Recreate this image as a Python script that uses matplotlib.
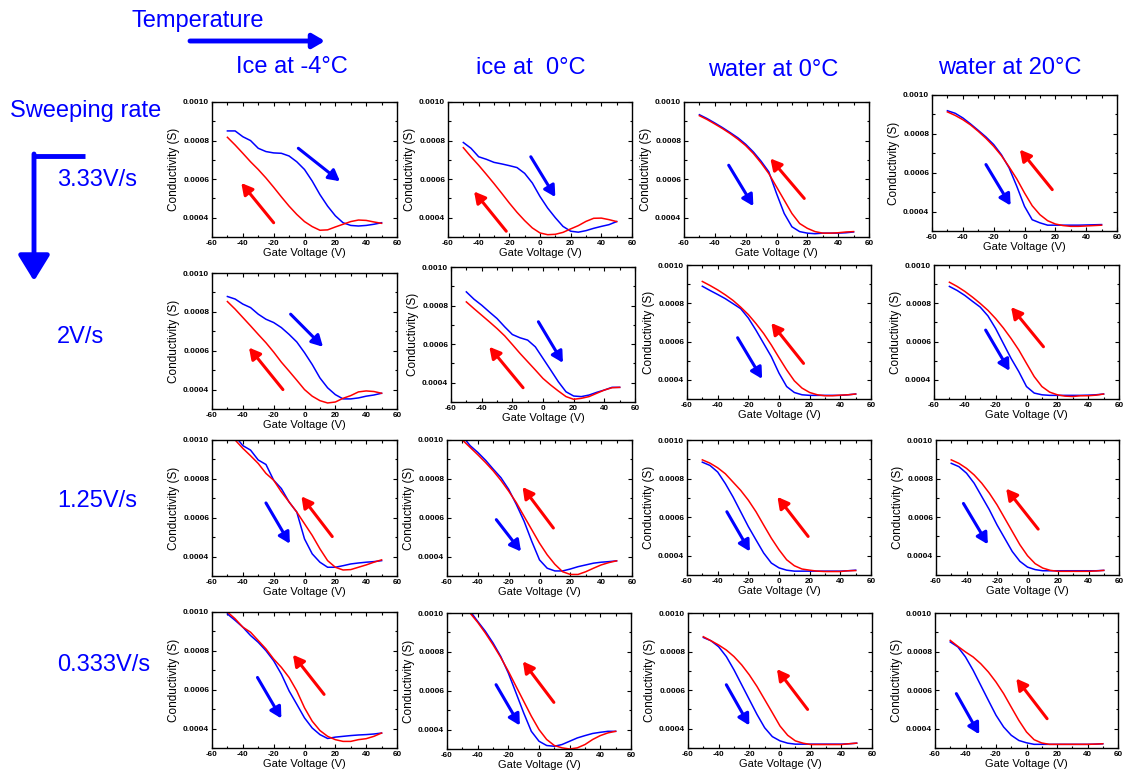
import matplotlib
matplotlib.use('Agg')
import matplotlib.pyplot as plt
from matplotlib.ticker import MultipleLocator

plt.rcParams['font.family'] = ['Liberation Sans', 'DejaVu Sans']

# ---------------- data ----------------
temperatures = ['Ice at -4°C', 'ice at  0°C', 'water at 0°C', 'water at 20°C']
rates = ['3.33V/s', '2V/s', '1.25V/s', '0.333V/s']
gate_v = [-50, -45, -40, -35, -30, -25, -20, -15, -10, -5, 0, 5, 10, 15, 20, 25, 30, 35, 40, 45, 50]

# blue = forward sweep (-50 -> 50), red = backward sweep (50 -> -50); units: S
blue_r1c1 = [0.00085, 0.00085, 0.00082, 0.00080, 0.00076, 0.000743, 0.000736, 0.000734, 0.00072, 0.00069, 0.00065,
             0.00059, 0.00052, 0.00046, 0.00041, 0.000374, 0.00036, 0.000357, 0.00036, 0.000366, 0.000374]
red_r1c1 = [0.000817, 0.000777, 0.000734, 0.00069, 0.00065, 0.000606, 0.000558, 0.000508, 0.00046, 0.000417, 0.00038,
            0.000354, 0.000335, 0.000337, 0.000352, 0.000366, 0.00038, 0.000388, 0.000386, 0.000378, 0.000371]
blue_r1c2 = [0.00079, 0.00076, 0.000716, 0.000703, 0.000687, 0.000679, 0.00067, 0.00066, 0.00063, 0.00058, 0.00051,
             0.00045, 0.00040, 0.000355, 0.00033, 0.000325, 0.000333, 0.000345, 0.000355, 0.000364, 0.00038]
red_r1c2 = [0.000763, 0.000716, 0.000672, 0.000625, 0.000577, 0.000527, 0.000476, 0.000428, 0.000385, 0.000347, 0.000321,
            0.000312, 0.000314, 0.000324, 0.000342, 0.000359, 0.000381, 0.000397, 0.000398, 0.00039, 0.00038]
blue_r1c3 = [0.000934, 0.000914, 0.000891, 0.000867, 0.000841, 0.000814, 0.000781, 0.000741, 0.000693, 0.000638, 0.000526,
             0.000422, 0.000353, 0.000328, 0.00032, 0.000317, 0.00032, 0.00032, 0.00032, 0.000322, 0.000326]
red_r1c3 = [0.000929, 0.000909, 0.000886, 0.000862, 0.000836, 0.000807, 0.000774, 0.000733, 0.000684, 0.000629, 0.00056,
            0.000491, 0.000422, 0.00037, 0.000345, 0.000328, 0.00032, 0.00032, 0.000322, 0.000326, 0.000328]
blue_r1c4 = [0.000919, 0.000906, 0.000882, 0.000851, 0.000818, 0.000784, 0.000745, 0.000693, 0.000625, 0.00053, 0.000427,
             0.000358, 0.000342, 0.00033, 0.00033, 0.00033, 0.00033, 0.00033, 0.000331, 0.000332, 0.000333]
red_r1c4 = [0.000913, 0.000895, 0.000873, 0.000846, 0.000813, 0.000777, 0.000736, 0.000688, 0.00063, 0.000568, 0.000496,
            0.00043, 0.000384, 0.000353, 0.000336, 0.000328, 0.000324, 0.000324, 0.000326, 0.000328, 0.00033]

blue_r2c1 = [0.000879, 0.000866, 0.00084, 0.000822, 0.000788, 0.000762, 0.000745, 0.000719, 0.000684, 0.000645, 0.00059,
             0.000529, 0.00046, 0.000409, 0.000374, 0.000352, 0.000352, 0.000357, 0.000366, 0.000372, 0.000381]
red_r2c1 = [0.000853, 0.000814, 0.000771, 0.000728, 0.000684, 0.000641, 0.000593, 0.000541, 0.000495, 0.000448, 0.0004,
            0.000366, 0.000343, 0.000331, 0.000336, 0.000355, 0.000369, 0.000388, 0.000393, 0.00039, 0.000381]
blue_r2c2 = [0.000871, 0.000833, 0.000802, 0.000767, 0.000733, 0.00069, 0.00065, 0.000633, 0.000621, 0.000586, 0.000526,
             0.000466, 0.000405, 0.000353, 0.000331, 0.000328, 0.000336, 0.00035, 0.000362, 0.000376, 0.000376]
red_r2c2 = [0.000819, 0.000784, 0.00075, 0.000716, 0.000681, 0.000643, 0.000598, 0.000552, 0.000509, 0.000466, 0.000422,
            0.000388, 0.000357, 0.000328, 0.000314, 0.000319, 0.000328, 0.000345, 0.000362, 0.000374, 0.000376]
blue_r2c3 = [0.000889, 0.000867, 0.000846, 0.000824, 0.000798, 0.000772, 0.000723, 0.000659, 0.00059, 0.000521, 0.000435,
             0.000365, 0.000334, 0.000322, 0.000319, 0.000319, 0.000319, 0.000319, 0.000319, 0.000322, 0.000326]
red_r2c3 = [0.000914, 0.000893, 0.00087, 0.000844, 0.000815, 0.00078, 0.000741, 0.000694, 0.000642, 0.000582, 0.000516,
            0.000452, 0.000395, 0.000357, 0.000334, 0.000322, 0.000317, 0.000317, 0.00032, 0.000322, 0.000326]
blue_r2c4 = [0.000888, 0.000867, 0.000841, 0.00081, 0.00078, 0.000734, 0.000668, 0.00059, 0.000512, 0.000443, 0.000365,
             0.000331, 0.000322, 0.000319, 0.000319, 0.000319, 0.000319, 0.000319, 0.00032, 0.000322, 0.000326]
red_r2c4 = [0.00091, 0.000888, 0.000862, 0.000832, 0.000799, 0.000763, 0.00072, 0.000671, 0.000616, 0.000556, 0.000486,
            0.000417, 0.000365, 0.000336, 0.000322, 0.000315, 0.000313, 0.000317, 0.000317, 0.00032, 0.000326]

blue_r3c1 = [0.00108, 0.00102, 0.000971, 0.000948, 0.000897, 0.000874, 0.000793, 0.00075, 0.000681, 0.000629, 0.000491,
             0.000414, 0.000371, 0.000345, 0.000345, 0.000353, 0.000362, 0.000367, 0.000371, 0.000374, 0.000379]
red_r3c1 = [0.00106, 0.0010, 0.000957, 0.000919, 0.000879, 0.000828, 0.000793, 0.000733, 0.000681, 0.000629, 0.000569,
            0.000509, 0.00044, 0.000379, 0.000345, 0.000331, 0.000333, 0.000345, 0.000357, 0.000371, 0.000383]
blue_r3c2 = [0.00102, 0.000971, 0.000936, 0.000896, 0.00085, 0.000806, 0.000746, 0.000668, 0.000582, 0.000478, 0.000383,
             0.00034, 0.000326, 0.000326, 0.000336, 0.000348, 0.000357, 0.000366, 0.000371, 0.000374, 0.000378]
red_r3c2 = [0.0010, 0.000962, 0.000924, 0.000884, 0.000841, 0.000792, 0.000737, 0.000677, 0.000607, 0.000538, 0.000469,
            0.000409, 0.00036, 0.000322, 0.000308, 0.000308, 0.000322, 0.00034, 0.000357, 0.000369, 0.000378]
blue_r3c3 = [0.000885, 0.000868, 0.000834, 0.000774, 0.000705, 0.000628, 0.000551, 0.000482, 0.000414, 0.000362, 0.000337,
             0.000325, 0.00032, 0.00032, 0.00032, 0.00032, 0.00032, 0.00032, 0.00032, 0.000322, 0.000325]
red_r3c3 = [0.000897, 0.00088, 0.000856, 0.000825, 0.000782, 0.000739, 0.000688, 0.000628, 0.000559, 0.000491, 0.000431,
            0.000379, 0.000348, 0.000331, 0.000325, 0.00032, 0.000318, 0.000318, 0.000318, 0.000322, 0.000323]
blue_r3c4 = [0.000879, 0.000862, 0.000828, 0.000776, 0.000707, 0.000638, 0.00056, 0.000491, 0.000422, 0.000371, 0.000341,
             0.000328, 0.000322, 0.000322, 0.000322, 0.000322, 0.000322, 0.000322, 0.000322, 0.000322, 0.000324]
red_r3c4 = [0.000897, 0.000879, 0.000853, 0.000819, 0.000776, 0.000724, 0.000664, 0.000595, 0.000526, 0.000457, 0.0004,
            0.000359, 0.000336, 0.000324, 0.000319, 0.000319, 0.000319, 0.000319, 0.000319, 0.000321, 0.000324]

blue_r4c1 = [0.00099, 0.000957, 0.000922, 0.000879, 0.000844, 0.000801, 0.000749, 0.00068, 0.000594, 0.000525, 0.000455,
             0.000403, 0.000369, 0.000349, 0.000356, 0.00036, 0.000364, 0.000367, 0.000369, 0.000372, 0.000377]
red_r4c1 = [0.0010, 0.000965, 0.000922, 0.000896, 0.000853, 0.00081, 0.000758, 0.000715, 0.000663, 0.000594, 0.000507,
            0.000438, 0.00039, 0.00036, 0.000343, 0.000334, 0.000334, 0.000343, 0.000348, 0.00036, 0.000377]
blue_r4c2 = [0.00104, 0.00101, 0.000957, 0.000906, 0.000846, 0.000777, 0.000691, 0.000589, 0.000486, 0.000391, 0.00034,
             0.000318, 0.000314, 0.000323, 0.00034, 0.000357, 0.000369, 0.00038, 0.000386, 0.000391, 0.000391]
red_r4c2 = [0.00103, 0.0010, 0.000952, 0.000897, 0.000837, 0.000772, 0.0007, 0.000623, 0.000546, 0.000469, 0.0004,
            0.000349, 0.000318, 0.000306, 0.0003, 0.000306, 0.000323, 0.000349, 0.000369, 0.000383, 0.000391]
blue_r4c3 = [0.000873, 0.000856, 0.000825, 0.000774, 0.000705, 0.000628, 0.000551, 0.000474, 0.000405, 0.000359, 0.000337,
             0.000325, 0.00032, 0.00032, 0.00032, 0.00032, 0.00032, 0.00032, 0.00032, 0.000322, 0.000325]
red_r4c3 = [0.000877, 0.000856, 0.000834, 0.000808, 0.000774, 0.000731, 0.000679, 0.000619, 0.000551, 0.000483, 0.000414,
            0.000366, 0.000337, 0.000325, 0.000318, 0.000318, 0.000318, 0.000318, 0.000318, 0.000322, 0.000325]
blue_r4c4 = [0.00085, 0.000824, 0.000772, 0.000703, 0.000625, 0.000547, 0.00047, 0.000409, 0.000366, 0.000339, 0.000327,
             0.000319, 0.000319, 0.000319, 0.000319, 0.000319, 0.000319, 0.000319, 0.000319, 0.00032, 0.000322]
red_r4c4 = [0.000858, 0.000827, 0.000798, 0.000772, 0.000737, 0.000694, 0.000642, 0.000582, 0.000512, 0.000443, 0.000383,
            0.000343, 0.000326, 0.000319, 0.000319, 0.000319, 0.000319, 0.000319, 0.000319, 0.00032, 0.000322]

blue_curves = [[blue_r1c1, blue_r1c2, blue_r1c3, blue_r1c4],
               [blue_r2c1, blue_r2c2, blue_r2c3, blue_r2c4],
               [blue_r3c1, blue_r3c2, blue_r3c3, blue_r3c4],
               [blue_r4c1, blue_r4c2, blue_r4c3, blue_r4c4]]
red_curves = [[red_r1c1, red_r1c2, red_r1c3, red_r1c4],
              [red_r2c1, red_r2c2, red_r2c3, red_r2c4],
              [red_r3c1, red_r3c2, red_r3c3, red_r3c4],
              [red_r4c1, red_r4c2, red_r4c3, red_r4c4]]

# sweep-direction arrows (tail x, tail y, head x, head y) in data units
blue_arrows = [[(-4, 0.00076, 23, 0.000589), (-6, 0.000716, 10, 0.000507), (-31, 0.000672, -15, 0.00046), (-25, 0.000642, -9, 0.000431)],
               [(-9, 0.000788, 12, 0.00062), (-3, 0.000716, 13, 0.000503), (-27, 0.00062, -11, 0.000405), (-26.5, 0.00066, -11, 0.000447)],
               [(-25, 0.000676, -9.5, 0.000466), (-28, 0.00059, -12, 0.000426), (-34, 0.000628, -19, 0.000422), (-42, 0.000671, -26, 0.000459)],
               [(-30.5, 0.000663, -15, 0.000452), (-28, 0.000631, -12.5, 0.000421), (-35, 0.000628, -20, 0.000417), (-46, 0.000582, -31, 0.000371)]]
red_arrows = [[(-20, 0.000374, -41, 0.00058), (-22, 0.00033, -43, 0.000536), (18, 0.0005, -4, 0.000707), (18, 0.000513, -3, 0.000719)],
              [(-14, 0.0004, -36, 0.000616), (-13, 0.000374, -35, 0.000586), (16, 0.000486, -5, 0.000697), (11, 0.000573, -10, 0.00078)],
              [(18, 0.000503, -2, 0.00071), (9, 0.000547, -11, 0.000758), (19, 0.0005, -1, 0.000705), (7, 0.000538, -14, 0.000748)],
              [(12.7, 0.000576, -7.5, 0.00078), (9.7, 0.00054, -10.5, 0.000751), (18, 0.0005, -2, 0.000709), (13.5, 0.000452, -6.7, 0.00066)]]

# ---------------- layout (pixel boxes: left, top, right, bottom) ----------------
W, H = 1128, 779
boxes = [[(212, 102, 397, 237), (448, 102, 632, 237), (684, 102, 869, 237), (932, 95, 1117, 231)],
         [(212, 273, 397, 409), (451, 267, 635, 402), (687, 265, 871, 399), (934, 265, 1119, 399)],
         [(212, 440, 397, 576), (447, 440, 632, 576), (687, 440, 871, 575), (936, 440, 1119, 575)],
         [(212, 612, 397, 748), (447, 613, 631, 749), (688, 613, 872, 748), (935, 613, 1118, 748)]]

BLUE = '#0000ff'
RED = '#ff0000'

fig = plt.figure(figsize=(W / 100, H / 100), dpi=100)

for r in range(4):
    for c in range(4):
        l, t, rr, b = boxes[r][c]
        ax = fig.add_axes([l / W, 1 - b / H, (rr - l) / W, (b - t) / H])
        ax.plot(gate_v, blue_curves[r][c], color=BLUE, lw=1.1)
        ax.plot(gate_v, red_curves[r][c], color=RED, lw=1.1)
        ax.set_xlim(-60, 60)
        ax.set_ylim(0.0003, 0.0010)
        ax.set_xticks([-60, -40, -20, 0, 20, 40, 60])
        ax.set_xticklabels(['-60', '-40', '-20', '0', '20', '40', '60'], fontsize=5.8, fontweight='bold')
        ax.set_yticks([0.0004, 0.0006, 0.0008, 0.0010])
        ax.set_yticklabels(['0.0004', '0.0006', '0.0008', '0.0010'], fontsize=6, fontweight='bold')
        ax.xaxis.set_minor_locator(MultipleLocator(10))
        ax.yaxis.set_minor_locator(MultipleLocator(0.0001))
        ax.tick_params(which='both', direction='in', top=True, right=True, width=0.8, pad=2)
        ax.tick_params(which='major', length=3)
        ax.tick_params(which='minor', length=1.8)
        for s in ax.spines.values():
            s.set_linewidth(1.0)
        ax.set_xlabel('Gate Voltage (V)', fontsize=8, labelpad=1)
        ax.set_ylabel('Conductivity (S)', fontsize=8.5, labelpad=2)
        for (x0, y0, x1, y1), col in [(blue_arrows[r][c], BLUE), (red_arrows[r][c], RED)]:
            ax.annotate('', xy=(x1, y1), xytext=(x0, y0),
                        arrowprops=dict(arrowstyle='-|>,head_length=0.55,head_width=0.3', color=col,
                                        lw=2.2, shrinkA=0, shrinkB=0, mutation_scale=12))

# ---------------- headers (overlay axes in pixel coordinates) ----------------
ov = fig.add_axes([0, 0, 1, 1])
ov.set_xlim(0, W)
ov.set_ylim(H, 0)
ov.axis('off')
ov.patch.set_visible(False)

fs = 17
ov.text(198, 21, 'Temperature', color=BLUE, fontsize=fs, ha='center', va='center')
ov.annotate('', xy=(325, 41), xytext=(190, 41),
            arrowprops=dict(arrowstyle='-|>,head_length=0.6,head_width=0.35', color=BLUE, lw=3.5,
                            shrinkA=0, shrinkB=0, mutation_scale=12))
col_x = [292, 531, 773, 1010]
col_y = [67, 68, 70, 68]
for name, x, y in zip(temperatures, col_x, col_y):
    ov.text(x, y, name, color=BLUE, fontsize=fs, ha='center', va='center')

ov.text(10, 111, 'Sweeping rate', color=BLUE, fontsize=fs, ha='left', va='center')
ov.plot([33, 85], [156, 156], color=BLUE, lw=3.5, solid_capstyle='butt')
ov.annotate('', xy=(34, 281), xytext=(34, 154),
            arrowprops=dict(arrowstyle='-|>,head_length=1.3,head_width=0.8', color=BLUE, lw=3.5,
                            shrinkA=0, shrinkB=0, mutation_scale=12))
row_y = [180, 337, 501, 665]
for lab, y in zip(rates, row_y):
    ov.text(57, y, lab, color=BLUE, fontsize=fs, ha='left', va='center')

fig.savefig('out.png', dpi=100)
